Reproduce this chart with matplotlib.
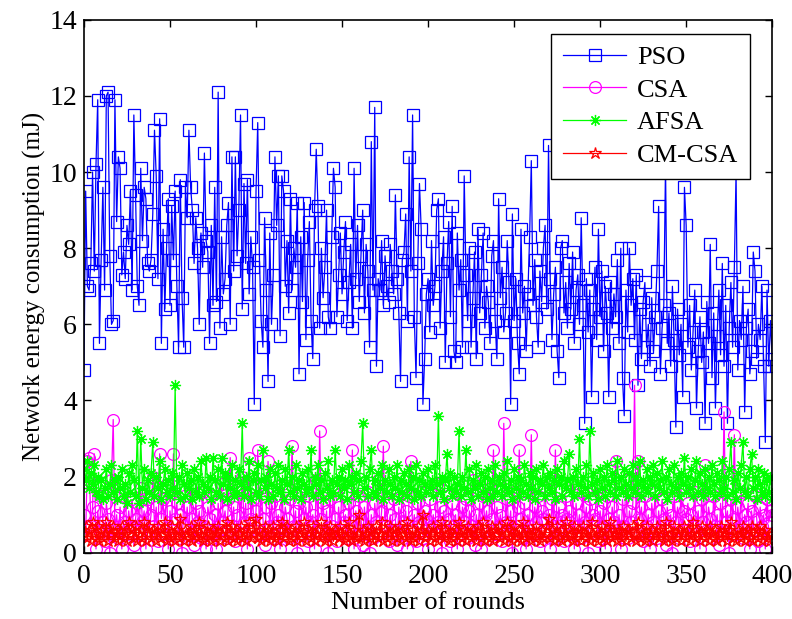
import matplotlib
matplotlib.use("Agg")
import matplotlib.pyplot as plt
import numpy as np

# energy per round (mJ), rounds 0..400
pso = [
    4.8, 9.5, 7.0, 6.9, 7.6, 10.0, 7.4, 10.2, 11.9, 5.5,
    7.7, 9.6, 6.9, 12.0, 12.1, 7.8, 6.0, 6.1, 11.9, 8.7,
    10.4, 10.1, 7.3, 7.9, 7.2, 8.6, 8.1, 9.5, 6.9, 11.5,
    9.4, 7.0, 6.5, 10.1, 8.2, 9.6, 9.3, 7.6, 7.4, 7.7,
    8.9, 11.1, 9.9, 7.2, 11.4, 5.5, 8.5, 6.4, 8.0, 9.3,
    6.5, 9.1, 7.7, 9.5, 7.0, 5.4, 9.8, 6.7, 5.4, 9.6,
    8.8, 11.1, 9.6, 9.0, 7.6, 8.8, 8.0, 6.0, 8.4, 7.5,
    10.5, 8.2, 7.9, 5.5, 8.6, 6.5, 9.6, 6.6, 12.1, 5.9,
    8.3, 6.8, 7.2, 8.6, 9.2, 6.0, 10.4, 7.4, 10.4, 7.8,
    9.0, 11.5, 6.4, 9.7, 7.6, 9.8, 6.8, 8.3, 7.5, 3.9,
    9.5, 11.3, 7.7, 6.1, 5.4, 8.8, 6.9, 4.5, 8.4, 6.0,
    7.3, 10.4, 8.6, 9.9, 5.7, 9.9, 9.5, 7.0, 8.2, 6.3,
    9.3, 6.9, 8.0, 7.5, 9.2, 4.7, 8.3, 6.6, 9.2, 5.6,
    7.7, 8.7, 6.1, 5.1, 9.0, 10.6, 9.1, 5.9, 8.0, 6.7,
    7.5, 9.0, 6.2, 5.9, 8.3, 10.1, 9.6, 6.2, 7.3, 8.4,
    6.8, 7.9, 8.7, 6.1, 7.1, 8.1, 5.9, 10.1, 7.2, 8.6,
    6.6, 7.8, 9.0, 6.3, 8.1, 7.4, 5.4, 10.8, 6.9, 11.7,
    4.9, 7.2, 6.9, 8.2, 6.5, 7.8, 7.0, 6.6, 8.1, 7.4,
    6.8, 9.4, 7.2, 6.3, 4.5, 7.7, 7.9, 8.9, 6.1, 10.4,
    7.4, 11.5, 6.2, 4.6, 7.6, 9.7, 8.5, 3.9, 5.1, 6.8,
    7.2, 5.8, 8.2, 6.5, 7.0, 9.0, 9.3, 5.9, 7.4, 8.3,
    5.0, 7.6, 8.7, 6.2, 9.1, 5.3, 5.0, 8.4, 6.9, 7.7,
    5.4, 9.9, 7.3, 6.1, 8.0, 5.4, 6.7, 7.9, 5.1, 8.5,
    6.3, 7.3, 8.4, 5.9, 7.0, 6.6, 5.5, 7.8, 8.2, 6.1,
    5.1, 9.3, 6.7, 7.5, 5.8, 6.3, 8.2, 7.1, 3.9, 8.9,
    6.1, 7.2, 5.5, 4.7, 8.5, 6.3, 7.0, 5.3, 6.8, 8.3,
    10.3, 6.5, 7.7, 6.2, 5.4, 7.4, 6.6, 8.0, 8.6, 6.4,
    10.7, 7.2, 5.6, 6.8, 7.5, 5.3, 4.6, 8.0, 8.2, 6.3,
    7.1, 5.9, 7.6, 6.4, 7.9, 5.5, 6.9, 7.3, 6.0, 8.8,
    6.5, 3.4, 7.2, 5.8, 6.9, 4.1, 6.4, 7.5, 5.6, 8.5,
    6.2, 7.4, 5.3, 7.0, 6.3, 4.1, 7.1, 5.9, 6.8, 6.2,
    7.7, 5.5, 8.0, 4.6, 3.6, 6.9, 5.8, 8.0, 6.5, 7.2,
    5.6, 7.3, 4.4, 6.4, 5.1, 6.6, 7.1, 5.4, 6.0, 4.9,
    6.7, 5.3, 6.2, 7.4, 9.1, 4.7, 5.9, 6.5, 10.2, 5.5,
    6.3, 4.9, 7.0, 5.6, 3.3, 6.4, 5.2, 6.0, 4.1, 9.6,
    8.6, 5.4, 6.5, 4.8, 5.8, 6.9, 3.8, 5.3, 6.2, 5.0,
    5.8, 3.4, 6.6, 5.5, 8.1, 4.6, 6.3, 3.8, 5.7, 6.9,
    5.2, 7.6, 4.9, 6.5, 3.4, 5.9, 7.1, 5.4, 7.5, 10.0,
    4.8, 6.1, 5.6, 7.0, 3.7, 5.9, 6.4, 4.7, 5.3, 7.9,
    7.4, 5.1, 6.0, 5.6, 7.0, 4.9, 2.9, 6.9, 4.9, 6.1,
    5.1,
]

csa = [
    1.0, 0.5, 2.4, 2.5, 0.7, 1.2, 2.6, 0.1, 1.1, 0.6,
    1.5, 0.8, 0.3, 1.3, 0.9, 0.0, 1.9, 3.5, 0.6, 1.0,
    0.4, 1.2, 0.1, 0.8, 1.6, 0.5, 1.1, 0.7, 1.4, 0.2,
    0.9, 1.3, 0.5, 1.7, 0.8, 1.1, 0.1, 1.4, 0.6, 1.0,
    2.0, 0.7, 1.2, 0.3, 2.6, 0.9, 1.4, 0.5, 1.8, 0.1,
    1.1, 0.6, 2.6, 0.9, 1.3, 0.4, 1.0, 0.0, 1.5, 0.7,
    1.2, 0.5, 1.7, 0.9, 0.2, 1.3, 0.8, 1.1, 0.4, 1.6,
    0.7, 0.1, 1.2, 0.9, 1.5, 0.5, 1.0, 0.1, 1.3, 0.6,
    1.8, 0.8, 1.1, 0.4, 1.4, 2.5, 0.7, 1.2, 0.3, 1.0,
    1.6, 0.5, 2.0, 0.8, 1.3, 0.1, 2.5, 0.9, 1.4, 0.6,
    1.1, 2.7, 0.5, 1.7, 0.9, 0.2, 1.2, 2.4, 0.7, 1.3,
    0.4, 1.5, 0.8, 1.0, 0.1, 1.8, 0.6, 1.2, 0.9, 0.4,
    1.4, 2.8, 0.7, 1.1, 0.0, 1.3, 0.5, 1.6, 0.9, 1.2,
    0.3, 1.5, 0.8, 1.0, 0.1, 1.9, 0.6, 3.2, 0.9, 1.3,
    0.5, 1.1, 0.0, 1.4, 0.7, 1.7, 0.9, 0.3, 1.2, 0.6,
    1.8, 0.8, 1.0, 0.4, 1.3, 0.7, 2.7, 0.1, 1.1, 0.5,
    1.5, 0.9, 0.2, 1.2, 0.6, 1.6, 0.0, 1.0, 0.4, 1.3,
    0.8, 1.9, 0.5, 1.1, 2.8, 0.7, 1.3, 0.3, 1.0, 0.6,
    1.4, 0.9, 0.2, 1.2, 0.5, 1.7, 0.8, 1.1, 0.1, 1.5,
    2.4, 0.6, 1.0, 0.3, 1.3, 0.8, 1.6, 0.4, 1.1, 0.9,
    0.1, 1.4, 0.7, 1.0, 0.5, 1.8, 0.8, 1.2, 0.0, 1.1,
    0.6, 1.5, 0.9, 0.3, 1.3, 0.7, 1.0, 0.1, 1.6, 0.5,
    1.2, 0.8, 1.4, 0.4, 1.1, 0.7, 1.9, 0.2, 1.0, 0.6,
    1.3, 0.1, 1.5, 0.8, 1.1, 0.4, 1.7, 0.9, 2.7, 0.5,
    1.2, 0.7, 1.0, 0.3, 3.4, 0.8, 1.4, 0.5, 1.1, 0.0,
    1.6, 0.6, 1.2, 2.7, 0.9, 0.4, 1.3, 0.1, 1.0, 0.7,
    3.1, 0.5, 1.2, 0.8, 1.5, 0.3, 1.1, 0.9, 1.7, 0.6,
    1.0, 0.1, 1.4, 0.7, 2.7, 0.4, 1.2, 0.8, 1.0, 0.3,
    1.5, 0.9, 1.1, 0.5, 1.8, 0.1, 1.3, 0.7, 1.0, 0.4,
    1.6, 0.8, 1.2, 0.0, 1.4, 0.6, 1.0, 0.9, 1.7, 0.3,
    1.1, 0.7, 1.3, 0.1, 1.5, 0.9, 0.5, 1.2, 0.8, 2.4,
    0.6, 1.0, 0.1, 1.4, 0.7, 1.9, 0.4, 1.1, 0.8, 1.3,
    4.4, 0.5, 2.4, 0.9, 1.2, 0.3, 1.5, 0.7, 1.0, 0.1,
    1.3, 0.8, 1.6, 0.4, 1.1, 0.6, 1.4, 0.9, 0.2, 1.2,
    0.7, 1.0, 0.0, 1.5, 0.8, 1.2, 0.4, 1.7, 0.6, 1.1,
    0.9, 1.3, 0.3, 1.0, 0.7, 1.6, 0.5, 1.1, 0.1, 1.4,
    0.8, 2.3, 0.6, 1.2, 0.9, 0.4, 1.5, 0.7, 1.0, 0.2,
    1.3, 0.6, 3.7, 0.8, 1.1, 0.0, 1.4, 0.9, 3.1, 0.5,
    1.2, 0.7, 1.6, 0.4, 1.0, 0.8, 1.3, 0.1, 1.1, 0.6,
    1.5, 0.9, 0.3, 1.2, 0.7, 1.0, 0.1, 1.4, 0.8, 1.1,
    1.0,
]

afsa = [
    2.2, 1.9, 2.4, 1.7, 2.1, 1.8, 2.3, 1.6, 2.0, 1.5,
    1.9, 1.4, 1.7, 2.2, 1.5, 1.8, 2.3, 1.6, 1.9, 1.4,
    2.0, 1.7, 2.2, 1.5, 1.8, 1.3, 2.1, 1.6, 2.3, 1.9,
    1.5, 3.2, 1.3, 3.0, 1.7, 2.2, 1.4, 1.9, 1.6, 2.1,
    2.9, 1.5, 2.0, 1.7, 2.4, 1.4, 1.8, 2.2, 1.6, 1.9,
    1.5, 2.1, 1.7, 4.4, 1.6, 2.0, 1.4, 2.3, 1.8, 1.5,
    2.1, 1.7, 1.9, 1.4, 2.2, 1.6, 2.0, 1.5, 2.4, 1.8,
    1.6, 2.5, 1.7, 2.0, 1.4, 2.5, 1.9, 1.6, 2.2, 1.5,
    2.5, 1.8, 2.1, 1.4, 2.0, 1.7, 2.3, 1.5, 1.9, 1.6,
    2.2, 1.8, 3.4, 1.5, 2.0, 1.7, 2.4, 1.4, 1.9, 2.1,
    1.6, 2.3, 1.5, 1.9, 2.7, 1.7, 2.0, 1.4, 2.2, 1.8,
    1.5, 2.1, 1.7, 2.3, 1.6, 1.9, 1.4, 2.2, 1.8, 2.7,
    1.6, 2.0, 1.5, 2.3, 1.7, 1.9, 1.4, 2.1, 1.8, 1.6,
    2.2, 1.7, 2.7, 1.5, 2.0, 1.8, 2.3, 1.6, 1.9, 1.4,
    2.1, 1.7, 2.4, 1.5, 1.9, 1.6, 2.7, 1.8, 2.0, 1.5,
    2.2, 1.7, 1.9, 1.4, 2.3, 1.8, 2.0, 1.6, 2.1, 1.5,
    1.9, 2.4, 3.4, 1.7, 2.0, 1.5, 2.2, 2.7, 1.6, 1.9,
    1.5, 2.1, 1.7, 2.3, 1.4, 1.9, 1.6, 2.2, 1.8, 1.5,
    2.0, 1.7, 2.3, 1.4, 1.9, 1.6, 2.1, 1.8, 1.5, 2.2,
    1.7, 2.0, 1.4, 2.3, 1.6, 1.9, 1.5, 2.1, 1.8, 1.6,
    2.2, 1.7, 1.9, 1.5, 2.3, 1.8, 3.6, 1.6, 2.0, 1.4,
    1.9, 2.6, 1.7, 2.1, 1.5, 2.0, 1.6, 1.8, 3.2, 1.5,
    2.0, 1.7, 2.7, 1.6, 2.2, 1.4, 1.9, 1.7, 2.3, 1.5,
    1.8, 2.1, 1.6, 2.0, 1.4, 2.2, 1.7, 1.9, 1.5, 2.3,
    1.6, 2.0, 1.8, 1.5, 2.1, 1.7, 2.4, 1.6, 1.9, 1.4,
    2.2, 1.7, 2.0, 1.5, 1.9, 1.6, 2.3, 1.8, 1.5, 2.1,
    1.7, 2.0, 1.4, 2.2, 1.6, 1.9, 1.8, 2.3, 1.5, 2.0,
    1.7, 2.1, 1.6, 1.9, 1.4, 2.2, 1.8, 2.0, 1.5, 2.4,
    1.7, 1.9, 2.6, 1.6, 2.0, 1.5, 2.2, 1.8, 3.0, 1.6,
    2.0, 1.7, 2.3, 1.5, 3.2, 1.8, 2.1, 1.6, 1.9, 1.4,
    2.2, 1.7, 2.0, 1.5, 2.3, 1.8, 1.6, 2.1, 1.9, 1.5,
    2.4, 1.7, 2.0, 1.6, 2.2, 1.8, 1.5, 2.1, 1.7, 2.3,
    1.6, 2.0, 1.8, 2.4, 1.5, 1.9, 1.7, 2.2, 1.6, 2.0,
    1.8, 2.3, 1.5, 2.1, 1.7, 1.9, 2.4, 1.6, 2.0, 1.4,
    2.2, 1.8, 1.6, 2.3, 1.7, 2.0, 1.5, 2.1, 1.8, 2.5,
    1.6, 2.0, 1.7, 2.2, 1.5, 1.9, 2.4, 1.6, 2.1, 1.8,
    1.5, 2.2, 1.7, 2.0, 1.6, 2.3, 1.8, 1.5, 2.1, 1.9,
    1.6, 2.4, 1.7, 2.0, 1.5, 2.2, 2.9, 1.6, 1.9, 1.4,
    2.1, 1.7, 2.3, 2.9, 1.6, 2.0, 1.5, 2.2, 2.6, 1.7,
    2.0, 1.4, 2.2, 1.8, 1.6, 2.1, 1.5, 1.9, 1.6, 2.0,
    1.4,
]

cmcsa = [
    0.5, 0.7, 0.4, 0.6, 0.3, 0.8, 0.5, 0.4, 0.7, 0.3,
    0.6, 0.4, 0.5, 0.8, 0.3, 0.6, 0.5, 0.7, 0.4, 0.5,
    0.3, 0.6, 0.7, 0.4, 0.5, 0.3, 0.8, 0.5, 0.6, 0.4,
    0.7, 0.3, 0.5, 0.6, 0.4, 0.8, 0.3, 0.5, 0.7, 0.4,
    0.6, 0.5, 0.3, 0.7, 0.4, 0.6, 0.5, 0.8, 0.3, 0.5,
    0.4, 0.7, 0.5, 0.3, 0.6, 0.4, 0.9, 0.5, 0.3, 0.6,
    0.5, 0.4, 0.7, 0.3, 0.6, 0.5, 0.4, 0.8, 0.5, 0.3,
    0.6, 0.4, 0.7, 0.5, 0.3, 0.6, 0.4, 0.5, 0.7, 0.3,
    0.5, 0.6, 0.4, 0.8, 0.3, 0.5, 0.7, 0.4, 0.6, 0.3,
    0.5, 0.7, 0.4, 0.6, 0.3, 0.5, 0.8, 0.4, 0.6, 0.5,
    0.9, 0.4, 0.6, 0.3, 0.5, 0.7, 0.4, 0.6, 0.3, 0.5,
    0.7, 0.4, 0.5, 0.3, 0.6, 0.8, 0.4, 0.5, 0.7, 0.3,
    0.6, 0.4, 0.5, 0.7, 0.3, 0.6, 0.5, 0.4, 0.8, 0.3,
    0.5, 0.6, 0.4, 0.7, 0.3, 0.5, 0.6, 0.4, 0.8, 0.5,
    0.3, 0.6, 0.4, 0.7, 0.5, 0.3, 0.6, 0.5, 0.4, 0.7,
    0.5, 0.3, 0.6, 0.4, 0.8, 0.5, 0.3, 0.6, 0.4, 0.5,
    1.0, 0.4, 0.6, 0.3, 0.5, 0.7, 0.4, 0.6, 0.3, 0.5,
    0.7, 0.4, 0.5, 0.8, 0.3, 0.6, 0.4, 0.5, 0.7, 0.3,
    0.6, 0.5, 0.4, 0.7, 0.3, 0.6, 0.5, 0.4, 0.8, 0.5,
    0.3, 0.6, 0.4, 0.5, 0.7, 0.3, 0.6, 1.0, 0.4, 0.5,
    0.6, 0.3, 0.5, 0.7, 0.4, 0.6, 0.3, 0.5, 0.8, 0.4,
    0.6, 0.5, 0.3, 0.7, 0.4, 0.5, 0.6, 0.3, 0.8, 0.5,
    0.4, 0.6, 0.3, 0.7, 0.5, 0.4, 0.6, 0.5, 0.3, 0.7,
    0.5, 0.4, 0.8, 0.3, 0.6, 0.5, 0.4, 0.7, 0.3, 0.6,
    0.5, 0.7, 0.4, 0.6, 0.3, 0.5, 0.8, 0.4, 0.6, 0.3,
    0.7, 0.5, 0.4, 0.6, 0.3, 0.8, 0.5, 0.4, 0.6, 0.5,
    0.3, 0.6, 0.4, 0.7, 0.5, 0.3, 0.6, 0.4, 0.5, 0.7,
    0.9, 0.4, 0.6, 0.3, 0.5, 0.7, 0.4, 0.6, 0.3, 0.5,
    0.8, 0.4, 0.6, 0.5, 0.3, 0.7, 0.4, 0.5, 0.6, 0.3,
    0.7, 0.5, 0.4, 0.6, 0.3, 0.8, 0.5, 0.4, 0.6, 0.3,
    0.5, 0.7, 0.4, 0.6, 0.3, 0.5, 0.8, 0.4, 0.6, 0.5,
    0.3, 0.6, 0.4, 0.7, 0.5, 0.3, 0.6, 0.5, 0.4, 0.7,
    0.5, 0.3, 0.8, 0.4, 0.6, 0.5, 0.3, 0.7, 0.4, 0.5,
    0.6, 0.3, 0.5, 0.7, 0.4, 0.6, 0.5, 0.3, 0.8, 0.4,
    0.6, 0.5, 0.3, 0.7, 0.4, 0.5, 0.6, 0.3, 0.5, 0.7,
    0.4, 0.6, 0.3, 0.5, 0.8, 0.4, 0.6, 0.5, 0.3, 0.7,
    0.5, 0.4, 0.6, 0.3, 0.7, 0.5, 0.4, 0.6, 0.3, 0.5,
    0.7, 0.4, 0.6, 0.5, 0.3, 0.6, 0.8, 0.4, 0.5, 0.3,
    0.6, 0.5, 0.4, 0.7, 0.3, 0.5, 0.6, 0.4, 0.7, 0.3,
    0.5, 0.6, 0.4, 0.7, 0.3, 0.5, 0.6, 0.4, 0.5, 0.3,
    0.5,
]

rounds = np.arange(len(pso))

plt.rcParams['font.family'] = ['Liberation Serif', 'DejaVu Serif']

fig = plt.figure(figsize=(7.92, 6.19), dpi=100)
ax = fig.add_axes([0.106, 0.107, 0.869, 0.861])

ax.plot(rounds, pso, color='#0000ff', lw=0.9, marker='s', ms=8.5,
        mfc='none', mec='#0000ff', mew=0.9, label='PSO')
ax.plot(rounds, csa, color='#ff00ff', lw=0.9, marker='o', ms=8.5,
        mfc='none', mec='#ff00ff', mew=0.9, label='CSA')
ax.plot(rounds, afsa, color='#00ff00', lw=0.9, marker=(8, 2, 0), ms=8,
        mec='#00ff00', mew=0.9, label='AFSA')
ax.plot(rounds, cmcsa, color='#ff0000', lw=0.9, marker='*', ms=9,
        mfc='none', mec='#ff0000', mew=0.9, label='CM-CSA')

ax.set_xlim(0, 400)
ax.set_ylim(0, 14)
ax.set_xticks(np.arange(0, 401, 50))
ax.set_yticks(np.arange(0, 15, 2))
ax.tick_params(direction='in', top=True, right=True, length=5, width=1,
               pad=5, labelsize=20)
ax.tick_params(axis='x', pad=8)
for s in ax.spines.values():
    s.set_linewidth(1.2)

ax.set_xlabel('Number of rounds', fontsize=19, labelpad=2)
ax.set_ylabel('Network energy consumption (mJ)', fontsize=18, labelpad=2)

leg = ax.legend(loc='upper right', bbox_to_anchor=(0.968, 0.974),
                borderaxespad=0, fancybox=False, edgecolor='black',
                framealpha=1, fontsize=19, borderpad=0.45, handlelength=2.4,
                handletextpad=0.4, labelspacing=0.35)
leg.get_frame().set_linewidth(1.0)

fig.savefig('out.png', dpi=100)
